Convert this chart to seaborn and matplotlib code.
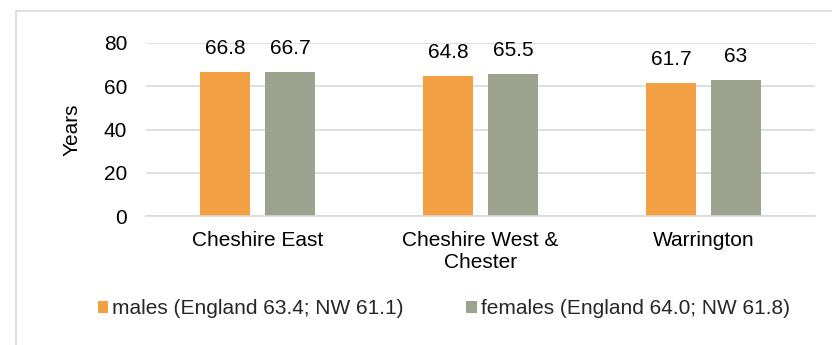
import matplotlib
matplotlib.use("Agg")
import matplotlib.pyplot as plt
from matplotlib.patches import Rectangle
import pandas as pd
import seaborn as sns

areas = ["Cheshire East", "Cheshire West &\nChester", "Warrington"]
series = ["males (England 63.4; NW 61.1)", "females (England 64.0; NW 61.8)"]
males = [66.8, 64.8, 61.7]
females = [66.7, 65.5, 63.0]
y_ticks = [0, 20, 40, 60, 80]

colors = ["#F3A044", "#9BA38F"]

df = pd.DataFrame({
    "area": areas * 2,
    "group": [series[0]] * 3 + [series[1]] * 3,
    "years": males + females,
})

sns.set_theme(style="white")
plt.rcParams["font.family"] = ["Liberation Sans", "DejaVu Sans"]
plt.rcParams["font.size"] = 15

fig = plt.figure(figsize=(8.32, 3.45), dpi=100)
ax = fig.add_axes([146 / 832, 1 - 216 / 345, (815 - 146) / 832, (216 - 43) / 345])

sns.barplot(data=df, x="area", y="years", hue="group", order=areas,
            hue_order=series, palette=colors, width=0.58, gap=0.23,
            saturation=1, edgecolor="none", ax=ax, legend=True)

ax.set_ylim(0, 80)
ax.set_xlim(-0.5, 2.5)
ax.set_yticks(y_ticks)
ax.yaxis.grid(True, color="#D9D9D9", linewidth=1.2)
ax.set_axisbelow(True)
for s in ["top", "right", "left"]:
    ax.spines[s].set_visible(False)
ax.spines["bottom"].set_color("#D9D9D9")
ax.spines["bottom"].set_linewidth(1.2)
ax.tick_params(axis="both", length=0, labelsize=15, colors="black")
ax.tick_params(axis="y", pad=13.5)
ax.tick_params(axis="x", pad=11)
ax.set_xlabel("")
ax.set_ylabel("Years", fontsize=15, color="black", labelpad=16)

for cont in ax.containers:
    labels = [f"{v:g}" for v in cont.datavalues]
    ax.bar_label(cont, labels=labels, padding=10, fontsize=15, color="black")

handles, labels = ax.get_legend_handles_labels()
ax.get_legend().remove()
fig.legend(handles, labels, loc="center", bbox_to_anchor=(444 / 832, 1 - 309 / 345),
           ncol=2, frameon=False, fontsize=15, handlelength=0.5, handleheight=0.5,
           handletextpad=0.2, columnspacing=3.0)

# light frame around the chart area
fig.patches.append(Rectangle((16 / 832, -0.2), 1.2, 1 - 11 / 345 + 0.2,
                             transform=fig.transFigure, fill=False,
                             edgecolor="#D9D9D9", linewidth=1.2))

fig.savefig("out.png", dpi=100)
